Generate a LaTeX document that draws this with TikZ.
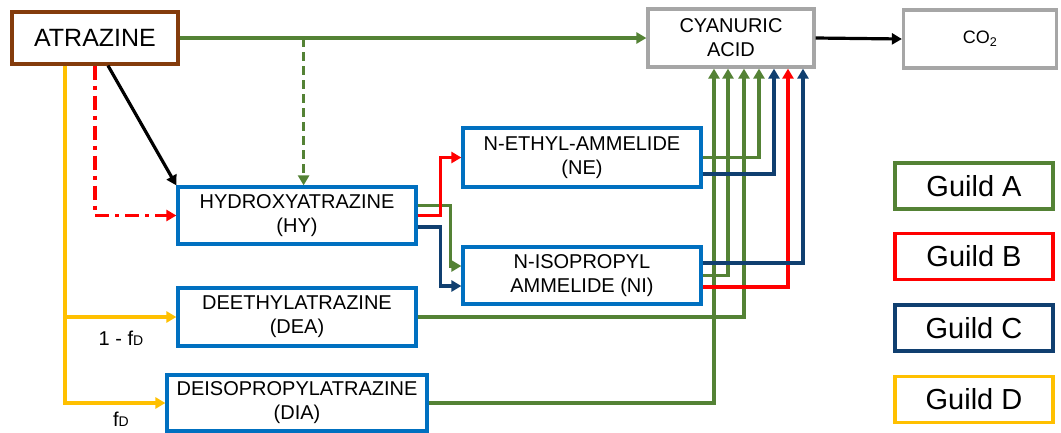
\documentclass[tikz,border=0pt]{standalone}
\usepackage{fontspec}
\setmainfont{Liberation Sans}
\usetikzlibrary{arrows.meta,calc}
\definecolor{cgreen}{RGB}{84,130,53}
\definecolor{cbox}{RGB}{0,112,192}
\definecolor{cdblue}{RGB}{16,63,112}
\definecolor{cred}{RGB}{255,0,0}
\definecolor{cyellow}{RGB}{255,192,0}
\definecolor{cbrown}{RGB}{132,60,12}
\definecolor{cgray}{RGB}{166,166,166}
\tikzset{
  box/.style={draw=cbox,line width=3.2pt,fill=white,inner sep=0pt,align=center,
    font=\fontsize{20}{24}\selectfont},
  gbox/.style={draw=cgray,line width=3.2pt,fill=white,inner sep=0pt,align=center},
  guild/.style={line width=3.2pt,fill=white,inner sep=0pt,minimum width=158pt,minimum height=46pt,
    font=\fontsize{29}{30}\selectfont},
  conn/.style={line width=3.2pt,-{Triangle[length=10pt,width=11pt]}},
  lbl/.style={inner sep=0pt,font=\fontsize{20}{22}\selectfont}
}
\begin{document}
\begin{tikzpicture}[x=1pt,y=-1pt]
\useasboundingbox (0,0) rectangle (1061,432);
% nodes
\node[box,draw=cbrown,minimum width=166pt,minimum height=52pt,font=\fontsize{25}{27}\selectfont] (atr) at (95,38) {ATRAZINE};
\node[gbox,minimum width=166pt,minimum height=58pt,font=\fontsize{20}{24}\selectfont] (cya) at (731,38) {CYANURIC\\ACID};
\node[gbox,minimum width=153pt,minimum height=58pt,font=\fontsize{18}{20}\selectfont] (co2) at (980,39) {CO\textsubscript{2}};
\node[box,minimum width=238pt,minimum height=57pt] (hy) at (297,215.5) {HYDROXYATRAZINE\\(HY)};
\node[box,minimum width=238pt,minimum height=59pt] (ne) at (582,157.5) {N-ETHYL-AMMELIDE\\(NE)};
\node[box,minimum width=238pt,minimum height=57pt] (ni) at (582,275.5) {N-ISOPROPYL\\AMMELIDE (NI)};
\node[box,minimum width=238pt,minimum height=58pt] (dea) at (297,317) {DEETHYLATRAZINE\\(DEA)};
\node[box,minimum width=260pt,minimum height=56pt] (dia) at (297,403) {DEISOPROPYLATRAZINE\\(DIA)};
\node[guild,draw=cgreen] (ga) at (974,186) {Guild A};
\node[guild,draw=cred] (gb) at (974,256.5) {Guild B};
\node[guild,draw=cdblue] (gc) at (974,328) {Guild C};
\node[guild,draw=cyellow] (gd) at (974,399.5) {Guild D};
% atrazine connectors
\draw[conn,cgreen] (atr.east) -- (cya.west);
\coordinate (gsplit) at ($(atr.east)+(124,0)$);
\draw[conn,cgreen,dash pattern=on 9pt off 5pt] (gsplit) -- (gsplit |- hy.north);
\draw[conn,black] ($(atr.south)+(13,0)$) -- (hy.north west);
\draw[conn,cred,dash pattern=on 14pt off 6pt on 4pt off 6pt] (atr.south) |- (hy.west);
\coordinate (ysplit) at ($(atr.south)+(-30,0)$);
\draw[conn,cyellow] (ysplit) |- (dia.west);
\draw[conn,cyellow] (ysplit |- dea.west) -- (dea.west);
\node[lbl] (l1) at (121,338) {1 - f{\fontsize{14}{14}\selectfont D}};
\node[lbl] (l2) at (121,419) {f{\fontsize{14}{14}\selectfont D}};
% cyanuric -> co2
\draw[conn,black] (cya.east) -- (co2.west);
% HY -> NE, NI
\draw[conn,cgreen] ($(hy.east)+(0,-10)$) -- ++(33,0) |- ($(ni.west)+(0,-9.5)$);
\draw[conn,cred] (hy.east) -- ++(23,0) |- (ne.west);
\draw[conn,cdblue] ($(hy.east)+(0,11.5)$) -- ++(23,0) |- ($(ni.west)+(0,10.5)$);
% to cyanuric acid
\draw[conn,cgreen] (dia.east) -| ($(cya.south)+(-17,0)$);
\draw[conn,cgreen] (ni.east) -| ($(cya.south)+(-3,0)$);
\draw[conn,cgreen] (dea.east) -| ($(cya.south)+(13,0)$);
\draw[conn,cgreen] (ne.east) -| ($(cya.south)+(28,0)$);
\draw[conn,cdblue] ($(ne.east)+(0,16.5)$) -| ($(cya.south)+(43,0)$);
\draw[conn,cred] ($(ni.east)+(0,11.5)$) -| ($(cya.south)+(57,0)$);
\draw[conn,cdblue] ($(ni.east)+(0,-12.5)$) -| ($(cya.south)+(72,0)$);
\end{tikzpicture}
\end{document}
